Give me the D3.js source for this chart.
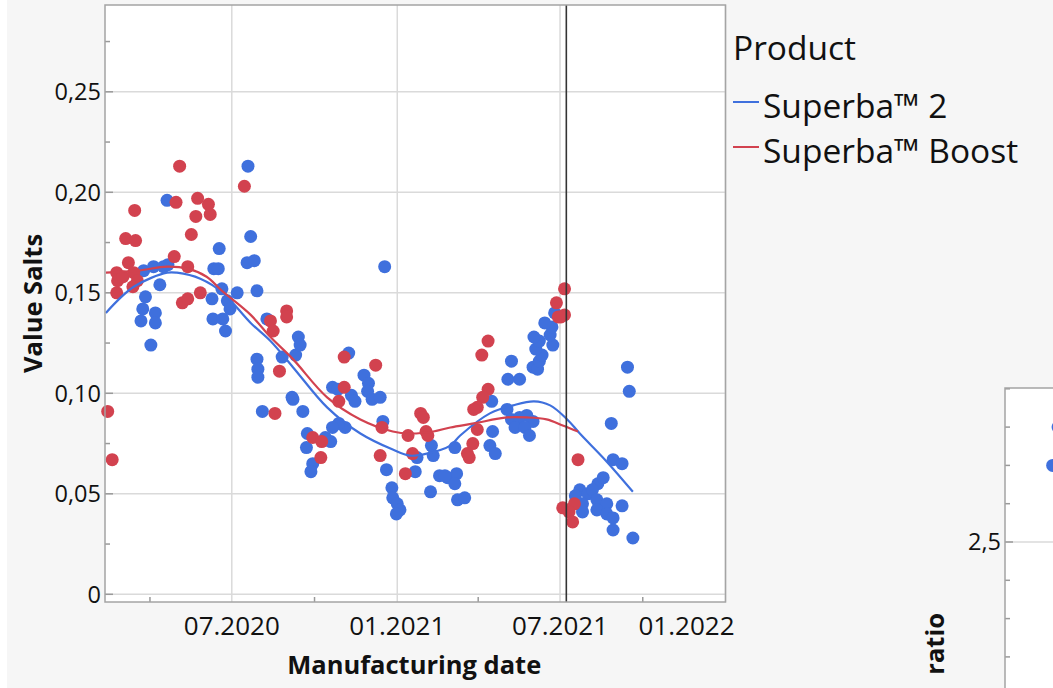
<!DOCTYPE html>
<html>
<head>
<meta charset="utf-8">
<script src="https://cdn.jsdelivr.net/npm/d3@7"></script>
<style>
  body { margin: 0; background: #fff; }
  svg text { font-family: "Open Sans", "Noto Sans", sans-serif; fill: #111; }
</style>
</head>
<body>
<svg id="chart" width="1053" height="688"></svg>
<script>
// ---- data ----
const seriesNames = ["Superba™ 2", "Superba™ Boost"];
const seriesColors = ["#3f70dd", "#d2424f"];

// Superba 2 points: [manufacturing date, value salts]
const superba2 = [
  ["2020-03-22",0.136],["2020-03-24",0.142],["2020-03-27",0.148],["2020-03-25",0.161],
  ["2020-04-02",0.124],["2020-04-07",0.140],["2020-04-07",0.135],["2020-04-05",0.163],
  ["2020-04-12",0.154],["2020-04-16",0.163],["2020-04-21",0.164],["2020-04-20",0.196],
  ["2020-06-11",0.162],["2020-06-16",0.162],["2020-06-17",0.172],["2020-06-20",0.152],
  ["2020-06-09",0.147],["2020-06-26",0.146],["2020-07-07",0.150],["2020-06-29",0.142],
  ["2020-06-10",0.137],["2020-06-21",0.137],["2020-06-24",0.131],["2020-07-19",0.213],
  ["2020-07-22",0.178],["2020-07-18",0.165],["2020-07-26",0.166],["2020-07-29",0.151],
  ["2020-07-29",0.117],["2020-07-30",0.112],["2020-07-30",0.108],["2020-08-04",0.091],
  ["2020-08-09",0.137],["2020-08-26",0.118],["2020-09-10",0.119],["2020-09-13",0.128],
  ["2020-09-15",0.124],["2020-09-06",0.098],["2020-09-07",0.097],["2020-09-18",0.091],
  ["2020-09-23",0.080],["2020-09-22",0.073],["2020-10-13",0.078],["2020-10-19",0.076],
  ["2020-09-29",0.065],["2020-09-27",0.061],["2020-11-08",0.120],["2020-11-25",0.109],
  ["2020-11-30",0.105],["2020-11-29",0.101],["2020-12-04",0.097],["2020-12-13",0.098],
  ["2020-10-21",0.103],["2020-10-27",0.102],["2020-11-11",0.099],["2020-11-15",0.096],
  ["2020-11-04",0.083],["2020-10-28",0.085],["2020-10-21",0.083],["2020-12-16",0.086],
  ["2020-12-18",0.163],["2020-12-20",0.062],["2020-12-26",0.053],["2020-12-27",0.048],
  ["2021-01-01",0.045],["2021-01-04",0.042],["2020-12-31",0.040],["2021-01-23",0.068],
  ["2021-01-21",0.061],["2021-02-08",0.074],["2021-02-10",0.069],["2021-02-07",0.051],
  ["2021-02-17",0.059],["2021-02-26",0.058],["2021-03-06",0.073],["2021-03-08",0.060],
  ["2021-03-06",0.055],["2021-03-09",0.047],["2021-03-17",0.048],["2021-04-16",0.096],
  ["2021-04-17",0.081],["2021-04-14",0.074],["2021-04-20",0.070],["2021-05-03",0.092],
  ["2021-05-08",0.087],["2021-05-17",0.088],["2021-05-25",0.089],["2021-06-01",0.086],
  ["2021-05-12",0.083],["2021-05-23",0.083],["2021-05-28",0.079],["2021-05-08",0.116],
  ["2021-05-04",0.107],["2021-05-17",0.107],["2021-06-01",0.113],["2021-06-06",0.112],
  ["2021-06-08",0.116],["2021-06-11",0.119],["2021-06-04",0.122],["2021-06-23",0.124],
  ["2021-06-08",0.126],["2021-06-02",0.128],["2021-06-20",0.129],["2021-06-22",0.133],
  ["2021-06-14",0.135],["2021-06-25",0.140],["2021-08-27",0.085],["2021-09-14",0.113],
  ["2021-09-16",0.101],["2021-08-29",0.067],["2021-09-08",0.065],["2021-09-20",0.028],
  ["2021-07-23",0.052],["2021-08-01",0.050],["2021-08-12",0.055],["2021-08-18",0.058],
  ["2021-08-06",0.052],["2021-07-26",0.045],["2021-08-11",0.047],["2021-08-22",0.045],
  ["2021-07-26",0.041],["2021-08-11",0.042],["2021-08-22",0.040],["2021-08-29",0.038],
  ["2021-09-08",0.044],["2021-08-29",0.032],["2021-07-18",0.049],["2021-02-23",0.059]
];

// Superba Boost points
const superbaBoost = [
  ["2020-02-14",0.091],["2020-02-19",0.067],["2020-02-24",0.150],["2020-02-24",0.160],
  ["2020-02-25",0.156],["2020-03-02",0.158],["2020-03-08",0.165],["2020-03-14",0.160],
  ["2020-03-18",0.156],["2020-03-13",0.153],["2020-03-05",0.177],["2020-03-16",0.176],
  ["2020-03-15",0.191],["2020-04-28",0.168],["2020-05-04",0.213],["2020-04-30",0.195],
  ["2020-05-13",0.163],["2020-05-07",0.145],["2020-05-13",0.147],["2020-05-17",0.179],
  ["2020-05-22",0.188],["2020-05-24",0.197],["2020-05-27",0.150],["2020-06-05",0.194],
  ["2020-06-07",0.189],["2020-07-15",0.203],["2020-08-13",0.136],["2020-08-16",0.131],
  ["2020-08-31",0.141],["2020-08-31",0.138],["2020-08-23",0.111],["2020-08-18",0.090],
  ["2020-09-29",0.078],["2020-10-09",0.076],["2020-10-08",0.068],["2020-11-03",0.118],
  ["2020-12-08",0.114],["2020-11-03",0.103],["2020-10-28",0.096],["2020-12-15",0.083],
  ["2020-12-13",0.069],["2021-01-10",0.060],["2021-01-13",0.079],["2021-01-27",0.090],
  ["2021-01-30",0.088],["2021-02-02",0.081],["2021-02-04",0.079],["2021-01-18",0.070],
  ["2021-04-12",0.126],["2021-04-05",0.119],["2021-04-12",0.102],["2021-04-06",0.098],
  ["2021-03-31",0.093],["2021-03-27",0.092],["2021-03-31",0.082],["2021-03-26",0.075],
  ["2021-03-20",0.070],["2021-03-22",0.068],["2021-06-27",0.145],["2021-07-06",0.152],
  ["2021-06-29",0.138],["2021-07-06",0.139],["2021-07-02",0.138],["2021-07-21",0.067],
  ["2021-07-04",0.043],["2021-07-17",0.045],["2021-07-11",0.041],["2021-07-15",0.036]
];

// smoother curves
const superba2Fit = [
  ["2020-02-12",0.140],["2020-03-14",0.153],["2020-04-20",0.160],["2020-05-01",0.160],
  ["2020-05-27",0.157],["2020-06-21",0.150],["2020-07-22",0.135],["2020-08-13",0.126],
  ["2020-09-07",0.113],["2020-10-15",0.093],["2020-11-21",0.080],["2020-12-27",0.072],
  ["2021-01-15",0.069],["2021-02-03",0.070],["2021-03-01",0.074],["2021-03-12",0.079],
  ["2021-04-14",0.090],["2021-05-10",0.094],["2021-06-02",0.096],["2021-06-20",0.094],
  ["2021-07-09",0.087],["2021-07-23",0.080],["2021-08-22",0.066],["2021-09-20",0.051]
];
const superbaBoostFit = [
  ["2020-02-12",0.160],["2020-03-18",0.161],["2020-04-20",0.163],["2020-05-13",0.162],
  ["2020-06-03",0.158],["2020-06-20",0.151],["2020-07-22",0.139],["2020-08-13",0.128],
  ["2020-09-07",0.117],["2020-10-15",0.098],["2020-11-21",0.087],["2020-12-27",0.081],
  ["2021-01-15",0.080],["2021-02-10",0.081],["2021-03-01",0.083],["2021-03-27",0.085],
  ["2021-05-03",0.088],["2021-05-25",0.088],["2021-06-16",0.087],["2021-07-04",0.084],
  ["2021-07-21",0.081]
];

const refLineDate = "2021-07-08";
const xTickDates = ["2020-07-01","2021-01-01","2021-07-01","2022-01-01"];
const xMinorDates = ["2020-04-01","2020-10-01","2021-04-01","2021-10-01"];
const yTicks = [0, 0.05, 0.10, 0.15, 0.20, 0.25];
const yMinor = [0.025, 0.075, 0.125, 0.175, 0.225, 0.275];

// neighbouring panel (only its corner is visible)
const ratioPoints = [["2020-04-10",2.80],["2020-04-04",2.70],["2020-04-12",2.605]];
const ratioTicks = [2.5];
const ratioMinor = [2.2, 2.3, 2.4, 2.6, 2.7, 2.8, 2.9];

// ---- drawing ----
const parse = d3.utcParse("%Y-%m-%d");
const svg = d3.select("#chart");

svg.append("rect").attr("x", 7).attr("y", 0).attr("width", 1046).attr("height", 688).attr("fill", "#f6f6f6");

const plot = { left: 105, right: 725.5, top: 5, bottom: 602 };

const x = d3.scaleUtc()
  .domain([parse("2020-02-11"), parse("2022-01-01")])
  .range([plot.left, plot.right]);
const y = d3.scaleLinear().domain([0, 0.25]).range([594.3, 91.8]);

svg.append("rect")
  .attr("x", plot.left).attr("y", plot.top)
  .attr("width", plot.right - plot.left).attr("height", plot.bottom - plot.top)
  .attr("fill", "#fff");

const grid = svg.append("g").attr("stroke", "#dadada").attr("stroke-width", 1.5);
grid.selectAll(".gy").data(yTicks).join("line")
  .attr("x1", plot.left).attr("x2", plot.right)
  .attr("y1", d => y(d)).attr("y2", d => y(d));
grid.selectAll(".gx").data(xTickDates).join("line")
  .attr("x1", d => x(parse(d))).attr("x2", d => x(parse(d)))
  .attr("y1", plot.top).attr("y2", plot.bottom);

// minor ticks inside the frame
const ticks = svg.append("g").attr("stroke", "#9a9a9a").attr("stroke-width", 1.5);
ticks.selectAll(".my").data(yMinor).join("line")
  .attr("x1", plot.left).attr("x2", plot.left + 5)
  .attr("y1", d => y(d)).attr("y2", d => y(d));
ticks.selectAll(".Mx").data(yTicks).join("line")
  .attr("x1", plot.left).attr("x2", plot.left + 8)
  .attr("y1", d => y(d)).attr("y2", d => y(d));
ticks.selectAll(".mx").data(xMinorDates).join("line")
  .attr("x1", d => x(parse(d))).attr("x2", d => x(parse(d)))
  .attr("y1", plot.bottom - 5).attr("y2", plot.bottom);

// axes labels
const fmtY = d => d === 0 ? "0" : d3.format(".2f")(d).replace(".", ",");
svg.append("g").selectAll("text").data(yTicks).join("text")
  .attr("x", plot.left - 4).attr("y", d => y(d)).attr("dy", "0.36em")
  .attr("text-anchor", "end").attr("font-size", 23.5)
  .text(fmtY);

const fmtX = d3.utcFormat("%m.%Y");
svg.append("g").selectAll("text").data(xTickDates).join("text")
  .attr("x", (d, i) => i === xTickDates.length - 1 ? plot.right + 9 : x(parse(d)))
  .attr("y", 635)
  .attr("text-anchor", (d, i) => i === xTickDates.length - 1 ? "end" : "middle")
  .attr("font-size", 26)
  .text(d => fmtX(parse(d)));

svg.append("text")
  .attr("x", (plot.left + plot.right) / 2 - 1).attr("y", 674)
  .attr("text-anchor", "middle").attr("font-size", 25.5).attr("font-weight", "bold")
  .text("Manufacturing date");
svg.append("text")
  .attr("transform", `translate(42,${(plot.top + plot.bottom) / 2}) rotate(-90)`)
  .attr("text-anchor", "middle").attr("font-size", 25.5).attr("font-weight", "bold")
  .text("Value Salts");

// points
const series = [superba2, superbaBoost];
series.forEach((pts, i) => {
  svg.append("g").selectAll("circle").data(pts).join("circle")
    .attr("cx", d => x(parse(d[0])))
    .attr("cy", d => y(d[1]))
    .attr("r", 6.5)
    .attr("fill", seriesColors[i]);
});

// smoothers
const line = d3.line()
  .x(d => x(parse(d[0])))
  .y(d => y(d[1]))
  .curve(d3.curveCatmullRom.alpha(0.5));
[superba2Fit, superbaBoostFit].forEach((pts, i) => {
  svg.append("path").datum(pts)
    .attr("d", line)
    .attr("fill", "none")
    .attr("stroke", seriesColors[i])
    .attr("stroke-width", 2.2);
});

// reference line
svg.append("line")
  .attr("x1", x(parse(refLineDate))).attr("x2", x(parse(refLineDate)))
  .attr("y1", plot.top).attr("y2", plot.bottom)
  .attr("stroke", "#333").attr("stroke-width", 1.6);

// frame
svg.append("rect")
  .attr("x", plot.left).attr("y", plot.top)
  .attr("width", plot.right - plot.left).attr("height", plot.bottom - plot.top)
  .attr("fill", "none").attr("stroke", "#a4a4a4").attr("stroke-width", 1.5);

// legend
const legend = svg.append("g").attr("transform", "translate(733,0)");
legend.append("text").attr("x", 0).attr("y", 60).attr("font-size", 33.5).text("Product");
seriesNames.forEach((name, i) => {
  const yy = 102 + i * 45;
  legend.append("line").attr("x1", 0).attr("x2", 26).attr("y1", yy).attr("y2", yy)
    .attr("stroke", seriesColors[i]).attr("stroke-width", 2);
  legend.append("text").attr("x", 30).attr("y", yy + 16).attr("font-size", 33.5).text(name);
});

// neighbouring panel corner
const p2 = { left: 1005, top: 388 };
const x2 = d3.scaleUtc()
  .domain([parse("2020-02-11"), parse("2022-01-01")])
  .range([p2.left, p2.left + 620.5]);
const y2 = d3.scaleLinear().domain([2.5, 3.0]).range([542, 350.5]);
svg.append("rect").attr("x", p2.left).attr("y", p2.top)
  .attr("width", 60).attr("height", 320).attr("fill", "#fff");
svg.selectAll(".g2").data(ratioTicks).join("line")
  .attr("x1", p2.left).attr("x2", 1053).attr("y1", d => y2(d)).attr("y2", d => y2(d))
  .attr("stroke", "#dadada").attr("stroke-width", 1.5);
svg.append("g").selectAll("line").data(ratioMinor).join("line")
  .attr("x1", p2.left).attr("x2", p2.left + 5)
  .attr("y1", d => y2(d)).attr("y2", d => y2(d))
  .attr("stroke", "#9a9a9a").attr("stroke-width", 1.5);
svg.append("g").selectAll("line").data(ratioTicks).join("line")
  .attr("x1", p2.left).attr("x2", p2.left + 8)
  .attr("y1", d => y2(d)).attr("y2", d => y2(d))
  .attr("stroke", "#9a9a9a").attr("stroke-width", 1.5);
svg.append("g").selectAll("circle").data(ratioPoints).join("circle")
  .attr("cx", d => x2(parse(d[0]))).attr("cy", d => y2(d[1]))
  .attr("r", 6.5).attr("fill", seriesColors[0]);
svg.append("path")
  .attr("d", `M1053,${p2.top}H${p2.left}V688`)
  .attr("fill", "none").attr("stroke", "#a4a4a4").attr("stroke-width", 1.5);
svg.append("g").selectAll("text").data(ratioTicks).join("text")
  .attr("x", p2.left - 4).attr("y", d => y2(d)).attr("dy", "0.36em")
  .attr("text-anchor", "end").attr("font-size", 23.5)
  .text(d => d3.format(".1f")(d).replace(".", ","));
svg.append("text")
  .attr("transform", "translate(944,613) rotate(-90)")
  .attr("text-anchor", "end").attr("font-size", 25.5).attr("font-weight", "bold")
  .text("ratio");
</script>
</body>
</html>
